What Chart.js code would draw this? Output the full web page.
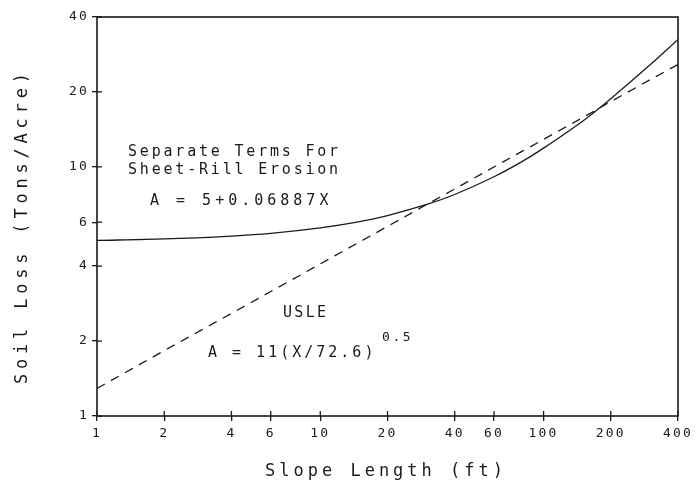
<!DOCTYPE html>
<html>
<head>
<meta charset="utf-8">
<script src="https://cdn.jsdelivr.net/npm/chart.js@4"></script>
<style>
  html, body { margin: 0; padding: 0; background: #fff; }
  canvas { display: block; }
</style>
</head>
<body>
<canvas id="chart" width="696" height="487"></canvas>
<script>
// slope lengths (ft)
const slopeLength = [1, 2, 4, 6, 10, 15, 20, 30, 40, 60, 80, 100, 150, 200, 300, 400];
// separate terms for sheet-rill erosion (solid line)
const sheetRill = [5.07, 5.14, 5.28, 5.41, 5.69, 6.03, 6.38, 7.07, 7.75, 9.13, 10.5, 11.9, 15.3, 18.8, 25.7, 32.5];
// USLE (dashed line)
const usle = [1.29, 1.83, 2.58, 3.16, 4.08, 5.0, 5.77, 7.07, 8.16, 10.0, 11.55, 12.9, 15.8, 18.3, 22.4, 25.8];

const xTicks = [1, 2, 4, 6, 10, 20, 40, 60, 100, 200, 400];
const yTicks = [1, 2, 4, 6, 10, 20, 40];

const FONT = "'DejaVu Sans Mono', 'Liberation Mono', monospace";
const INK = "#1a1a1a";

function pts(ys) {
  return slopeLength.map((x, i) => ({x: x, y: ys[i]}));
}

// frame, inward tick marks and all the plotter-style text
const plotterPlugin = {
  id: "plotter",
  beforeDraw(chart) {
    chart.ctx.letterSpacing = "2.2px";
  },
  afterDraw(chart) {
    const ctx = chart.ctx;
    const a = chart.chartArea;
    const xs = chart.scales.x, ys = chart.scales.y;
    ctx.save();
    ctx.strokeStyle = INK;
    ctx.lineWidth = 1.6;
    ctx.strokeRect(a.left, a.top, a.right - a.left, a.bottom - a.top);
    ctx.lineWidth = 1.3;
    ctx.beginPath();
    xTicks.forEach(v => {
      const px = xs.getPixelForValue(v);
      ctx.moveTo(px, a.bottom);
      ctx.lineTo(px, a.bottom - 5);
    });
    yTicks.forEach(v => {
      const py = ys.getPixelForValue(v);
      ctx.moveTo(a.left, py);
      ctx.lineTo(a.left + 5, py);
    });
    ctx.stroke();

    ctx.fillStyle = INK;
    ctx.textBaseline = "middle";
    ctx.textAlign = "left";

    // axis titles
    ctx.font = "17px " + FONT;
    ctx.letterSpacing = "4px";
    ctx.fillText("Slope Length (ft)", 265, 472);
    ctx.save();
    ctx.translate(23, 384);
    ctx.rotate(-Math.PI / 2);
    ctx.letterSpacing = "4.8px";
    ctx.fillText("Soil Loss (Tons/Acre)", 0, 0);
    ctx.restore();

    // annotations
    ctx.font = "15px " + FONT;
    ctx.letterSpacing = "2.8px";
    ctx.fillText("Separate Terms For", 128, 152);
    ctx.fillText("Sheet-Rill Erosion", 128, 170);
    ctx.letterSpacing = "4px";
    ctx.fillText("A = 5+0.06887X", 150, 201);
    ctx.letterSpacing = "2.3px";
    ctx.fillText("USLE", 283, 313);
    ctx.letterSpacing = "3px";
    ctx.fillText("A = 11(X/72.6)", 208, 353);
    ctx.font = "13px " + FONT;
    ctx.letterSpacing = "2.6px";
    ctx.fillText("0.5", 382, 338);
    ctx.restore();
  }
};

new Chart(document.getElementById("chart"), {
  type: "line",
  data: {
    datasets: [
      {
        label: "Sheet-Rill",
        data: pts(sheetRill),
        borderColor: INK,
        borderWidth: 1.3,
        pointRadius: 0,
        tension: 0.3,
        fill: false
      },
      {
        label: "USLE",
        data: pts(usle),
        borderColor: INK,
        borderWidth: 1.3,
        borderDash: [9, 7],
        pointRadius: 0,
        tension: 0,
        fill: false
      }
    ]
  },
  plugins: [plotterPlugin],
  options: {
    responsive: false,
    animation: false,
    events: [],
    layout: { padding: { top: 17, right: 18, left: 0, bottom: 0 } },
    plugins: { legend: { display: false }, tooltip: { enabled: false } },
    scales: {
      x: {
        type: "logarithmic",
        min: 1,
        max: 400,
        afterBuildTicks: s => { s.ticks = xTicks.map(v => ({value: v})); },
        afterFit: s => { s.height = 71; },
        grid: { drawOnChartArea: false, drawTicks: true, tickLength: 5, color: INK, lineWidth: 1.3 },
        border: { display: false },
        ticks: {
          autoSkip: false,
          maxRotation: 0,
          padding: 5,
          color: INK,
          font: { family: FONT, size: 13 },
          callback: v => String(v)
        }
      },
      y: {
        type: "logarithmic",
        min: 1,
        max: 40,
        afterBuildTicks: s => { s.ticks = yTicks.map(v => ({value: v})); },
        afterFit: s => { s.width = 97; },
        grid: { drawOnChartArea: false, drawTicks: true, tickLength: 5, color: INK, lineWidth: 1.3 },
        border: { display: false },
        ticks: {
          autoSkip: false,
          padding: 3,
          color: INK,
          font: { family: FONT, size: 13 },
          callback: v => String(v)
        }
      }
    }
  }
});
</script>
</body>
</html>
